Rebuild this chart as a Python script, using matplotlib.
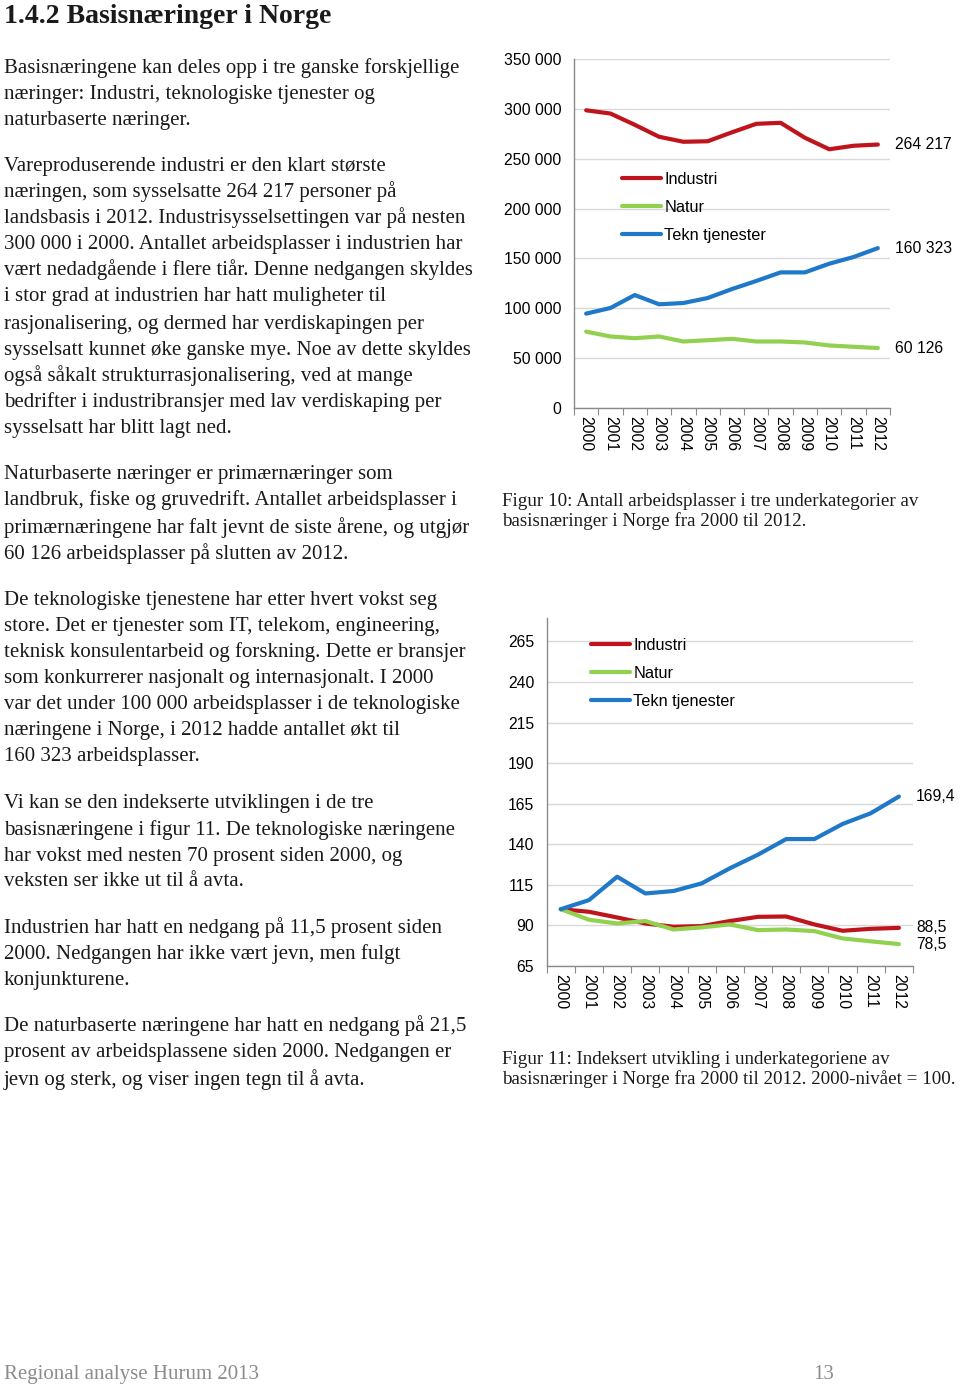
import matplotlib
matplotlib.use("Agg")
import matplotlib.pyplot as plt

W, H = 960, 1384

years = [str(y) for y in range(2000, 2013)]
series_names = ["Industri", "Natur", "Tekn tjenester"]
colors = ["#C0141C", "#92D050", "#1F78C8"]

industri_abs = [298550, 295300, 284000, 272000, 267000, 267500, 276500, 285000, 286000, 271000, 259500, 263000, 264217]
natur_abs = [76600, 71700, 70000, 71700, 66700, 68000, 69400, 66700, 66700, 65700, 62700, 61400, 60126]
tekn_abs = [94640, 100300, 113300, 104000, 105300, 110300, 119300, 127400, 136000, 136000, 144700, 151400, 160323]
abs_labels = ["264 217", "60 126", "160 323"]
abs_ticks = [0, 50000, 100000, 150000, 200000, 250000, 300000, 350000]
abs_ticklabels = ["0", "50 000", "100 000", "150 000", "200 000", "250 000", "300 000", "350 000"]

industri_idx = [100, 98.4, 94.9, 91.2, 89.2, 89.6, 92.7, 95.3, 95.5, 90.6, 86.7, 87.9, 88.5]
natur_idx = [100, 93.5, 91.2, 92.7, 87.5, 88.8, 90.6, 87.1, 87.5, 86.5, 82.0, 80.2, 78.5]
tekn_idx = [100, 105.6, 120.0, 109.7, 111.2, 115.9, 125.2, 133.6, 143.2, 143.2, 152.5, 159.1, 169.4]
idx_labels = ["88,5", "78,5", "169,4"]
idx_ticks = [65, 90, 115, 140, 165, 190, 215, 240, 265]

title = "1.4.2 Basisnæringer i Norge"
body_lines = [
    (66, "Basisnæringene kan deles opp i tre ganske forskjellige"),
    (92, "næringer: Industri, teknologiske tjenester og"),
    (118, "naturbaserte næringer."),
    (164, "Vareproduserende industri er den klart største"),
    (190, "næringen, som sysselsatte 264 217 personer på"),
    (216, "landsbasis i 2012. Industrisysselsettingen var på nesten"),
    (242, "300 000 i 2000. Antallet arbeidsplasser i industrien har"),
    (269, "vært nedadgående i flere tiår. Denne nedgangen skyldes"),
    (295, "i stor grad at industrien har hatt muligheter til"),
    (322, "rasjonalisering, og dermed har verdiskapingen per"),
    (348, "sysselsatt kunnet øke ganske mye. Noe av dette skyldes"),
    (374, "også såkalt strukturrasjonalisering, ved at mange"),
    (401, "bedrifter i industribransjer med lav verdiskaping per"),
    (427, "sysselsatt har blitt lagt ned."),
    (473, "Naturbaserte næringer er primærnæringer som"),
    (499, "landbruk, fiske og gruvedrift. Antallet arbeidsplasser i"),
    (526, "primærnæringene har falt jevnt de siste årene, og utgjør"),
    (552, "60 126 arbeidsplasser på slutten av 2012."),
    (598, "De teknologiske tjenestene har etter hvert vokst seg"),
    (624, "store. Det er tjenester som IT, telekom, engineering,"),
    (651, "teknisk konsulentarbeid og forskning. Dette er bransjer"),
    (677, "som konkurrerer nasjonalt og internasjonalt. I 2000"),
    (703, "var det under 100 000 arbeidsplasser i de teknologiske"),
    (729, "næringene i Norge, i 2012 hadde antallet økt til"),
    (755, "160 323 arbeidsplasser."),
    (801, "Vi kan se den indekserte utviklingen i de tre"),
    (828, "basisnæringene i figur 11. De teknologiske næringene"),
    (854, "har vokst med nesten 70 prosent siden 2000, og"),
    (880, "veksten ser ikke ut til å avta."),
    (926, "Industrien har hatt en nedgang på 11,5 prosent siden"),
    (953, "2000. Nedgangen har ikke vært jevn, men fulgt"),
    (979, "konjunkturene."),
    (1025, "De naturbaserte næringene har hatt en nedgang på 21,5"),
    (1051, "prosent av arbeidsplassene siden 2000. Nedgangen er"),
    (1078, "jevn og sterk, og viser ingen tegn til å avta."),
]
caption1 = [(501, "Figur 10: Antall arbeidsplasser i tre underkategorier av"),
            (521, "basisnæringer i Norge fra 2000 til 2012.")]
caption2 = [(1058, "Figur 11: Indeksert utvikling i underkategoriene av"),
            (1079, "basisnæringer i Norge fra 2000 til 2012. 2000-nivået = 100.")]
footer_left = "Regional analyse Hurum 2013"
footer_right = "13"

SERIF = ["Liberation Serif", "DejaVu Serif"]
SANS = ["Liberation Sans", "DejaVu Sans"]

fig = plt.figure(figsize=(W / 100, H / 100), dpi=100)
fig.patch.set_facecolor("white")


def fx(x):
    return x / W


def fy(y):
    return 1 - y / H


fig.text(fx(4), fy(23), title, family=SERIF, fontsize=20, fontweight="bold",
         va="baseline", ha="left", color="#1a1a1a")
for y, t in body_lines:
    fig.text(fx(4), fy(y + 6.5), t, family=SERIF, fontsize=15.0, va="baseline", ha="left", color="#1a1a1a")
for y, t in caption1 + caption2:
    fig.text(fx(502), fy(y + 5.5), t, family=SERIF, fontsize=13.7, va="baseline", ha="left", color="#1a1a1a")
fig.text(fx(4), fy(1379), footer_left, family=SERIF, fontsize=15, va="baseline", ha="left", color="#8c8c8c")
fig.text(fx(813), fy(1379), footer_right, family=SERIF, fontsize=15, va="baseline", ha="left", color="#8c8c8c")


def style_axes(ax):
    for s in ["top", "right"]:
        ax.spines[s].set_visible(False)
    for s in ["left", "bottom"]:
        ax.spines[s].set_color("#8a8a8a")
        ax.spines[s].set_linewidth(1.0)
    ax.grid(axis="y", color="#d9d9d9", linewidth=1.0)
    ax.set_axisbelow(True)
    ax.set_xlim(-0.5, len(years) - 0.5)
    ax.set_xticks([i - 0.5 for i in range(len(years) + 1)], minor=False)
    ax.set_xticklabels([])
    ax.set_xticks(range(len(years)), minor=True)
    ax.set_xticklabels(years, minor=True, rotation=270, family=SANS, fontsize=11.3)
    ax.tick_params(axis="x", which="major", length=5, color="#8a8a8a", direction="out")
    ax.tick_params(axis="x", which="minor", length=0, pad=6)
    ax.tick_params(axis="y", length=0, pad=9, labelsize=11.3)
    for lab in ax.get_yticklabels():
        lab.set_family(SANS)


x = list(range(len(years)))

# Chart 1
ax1 = fig.add_axes([fx(574), fy(408), (890 - 574) / W, (408 - 59) / H])
for vals, c, n in zip([industri_abs, natur_abs, tekn_abs], colors, series_names):
    ax1.plot(x, vals, color=c, lw=3, solid_capstyle="round", solid_joinstyle="round", label=n)
ax1.set_ylim(0, 350000)
ax1.set_yticks(abs_ticks)
ax1.set_yticklabels(abs_ticklabels)
style_axes(ax1)
for vals, lab in zip([industri_abs, natur_abs, tekn_abs], abs_labels):
    ax1.annotate(lab, xy=(len(years) - 0.5, vals[-1]), xytext=(3.6, 0),
                 textcoords="offset points", va="center", ha="left", family=SANS, fontsize=11.3,
                 annotation_clip=False)
ax1.legend(loc="upper left", bbox_to_anchor=(fx(622), fy(172)), bbox_transform=fig.transFigure,
           frameon=False, borderpad=0, borderaxespad=0, handlelength=2.4, handletextpad=0.2,
           labelspacing=0.8, prop={"family": SANS, "size": 11.7})

# Chart 2
ax2 = fig.add_axes([fx(546.7), fy(966), (913 - 546.7) / W, (966 - 618) / H])
for vals, c, n in zip([industri_idx, natur_idx, tekn_idx], colors, series_names):
    ax2.plot(x, vals, color=c, lw=3, solid_capstyle="round", solid_joinstyle="round", label=n)
ax2.set_ylim(65, 279.4)
ax2.set_yticks(idx_ticks)
ax2.set_yticklabels([str(v) for v in idx_ticks])
style_axes(ax2)
for vals, lab in zip([industri_idx, natur_idx, tekn_idx], idx_labels):
    ax2.annotate(lab, xy=(len(years) - 0.5, vals[-1]), xytext=(2.2, 0),
                 textcoords="offset points", va="center", ha="left", family=SANS, fontsize=11.3,
                 annotation_clip=False)
ax2.legend(loc="upper left", bbox_to_anchor=(fx(591), fy(638)), bbox_transform=fig.transFigure,
           frameon=False, borderpad=0, borderaxespad=0, handlelength=2.4, handletextpad=0.2,
           labelspacing=0.8, prop={"family": SANS, "size": 11.7})

fig.savefig("out.png", dpi=100, facecolor="white")
